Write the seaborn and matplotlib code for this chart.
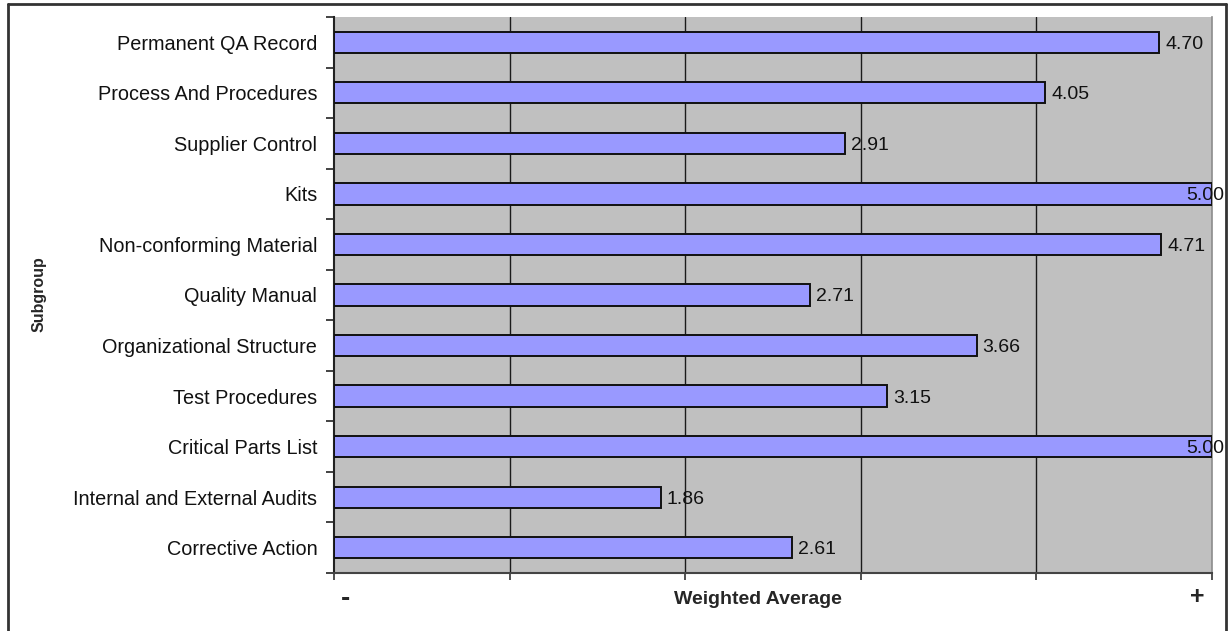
import matplotlib
matplotlib.use("Agg")
import matplotlib.pyplot as plt
from matplotlib.lines import Line2D
import seaborn as sns
import pandas as pd
import numpy as np

subgroups = [
    "Permanent QA Record",
    "Process And Procedures",
    "Supplier Control",
    "Kits",
    "Non-conforming Material",
    "Quality Manual",
    "Organizational Structure",
    "Test Procedures",
    "Critical Parts List",
    "Internal and External Audits",
    "Corrective Action",
]
weighted_avg = [4.70, 4.05, 2.91, 5.00, 4.71, 2.71, 3.66, 3.15, 5.00, 1.86, 2.61]
x_min, x_max = 0, 5

df = pd.DataFrame({"Subgroup": subgroups, "Weighted Average": weighted_avg})

sns.set_theme(style="white")
plt.rcParams["font.family"] = ["Liberation Sans", "DejaVu Sans"]

W, H = 1231, 631
fig = plt.figure(figsize=(W / 100, H / 100), dpi=100)
ax = fig.add_axes([334 / W, 1 - 573 / H, (1212 - 334) / W, (573 - 17) / H])
ax.set_facecolor("#C0C0C0")

sns.barplot(data=df, x="Weighted Average", y="Subgroup", orient="h",
            color="#9999FF", saturation=1, width=0.42,
            edgecolor="#111111", linewidth=1.4, ax=ax, zorder=3)

ax.set_xlim(x_min, x_max)
ax.set_ylim(len(subgroups) - 0.5, -0.5)

# vertical gridlines at the interior ticks
for v in range(x_min + 1, x_max):
    ax.axvline(v, color="#1a1a1a", lw=1.0, zorder=1)

# spines
ax.spines["top"].set_visible(False)
ax.spines["right"].set_color("#8c8c8c")
ax.spines["right"].set_linewidth(1.2)
ax.spines["left"].set_color("#222222")
ax.spines["left"].set_linewidth(1.5)
ax.spines["bottom"].set_color("#444444")
ax.spines["bottom"].set_linewidth(1.5)

# x ticks: marks only, with -/+ at the ends
ax.set_xticks(range(x_min, x_max + 1))
ax.set_xticklabels([])
ax.tick_params(axis="x", which="major", bottom=True, length=5, width=1.2,
               color="#333333", direction="out")
ax.set_xlabel("")

# y ticks: labels at category centres, marks on category boundaries
ax.set_yticks(range(len(subgroups)))
ax.set_yticklabels(subgroups, fontsize=14.3, color="#111111")
ax.tick_params(axis="y", which="major", left=False, length=0, pad=12)
ax.set_yticks(np.arange(-0.5, len(subgroups), 1.0), minor=True)
ax.tick_params(axis="y", which="minor", left=True, length=6, width=1.2,
               color="#222222", direction="out")
ax.set_ylabel("")

ax.annotate("-", xy=(0, 0), xycoords="axes fraction", xytext=(11, -26),
            textcoords="offset pixels", ha="center", va="center",
            fontsize=20, fontweight="bold")
ax.annotate("+", xy=(1, 0), xycoords="axes fraction", xytext=(-15, -24),
            textcoords="offset pixels", ha="center", va="center",
            fontsize=18, fontweight="bold")

fig.text(758 / W, 1 - 600 / H, "Weighted Average", ha="center", va="center",
         fontsize=14, fontweight="bold")
fig.text(39 / W, 1 - 294 / H, "Subgroup", ha="center", va="center",
         rotation=90, fontsize=11.5, fontweight="bold")

# value labels to the right of each bar, kept inside the chart frame
labels = []
for i, v in enumerate(weighted_avg):
    t = ax.annotate(f"{v:.2f}", xy=(v, i), xytext=(6, 0),
                    textcoords="offset pixels", ha="left",
                    va="center_baseline",
                    fontsize=14, color="#111111", zorder=5,
                    annotation_clip=False)
    labels.append(t)

fig.canvas.draw()
renderer = fig.canvas.get_renderer()
limit_px = 1224
for t in labels:
    bb = t.get_window_extent(renderer)
    if bb.x1 > limit_px:
        dx, dy = t.xyann
        t.xyann = (dx - (bb.x1 - limit_px), dy)

# chart frame
frame_kw = dict(color="#333333", lw=2.0, transform=None)
fig.add_artist(Line2D([8, 8], [0, H - 4], **frame_kw))
fig.add_artist(Line2D([1226, 1226], [0, H - 4], **frame_kw))
fig.add_artist(Line2D([8, 1226], [H - 4, H - 4], **frame_kw))

fig.savefig("out.png", dpi=100)
